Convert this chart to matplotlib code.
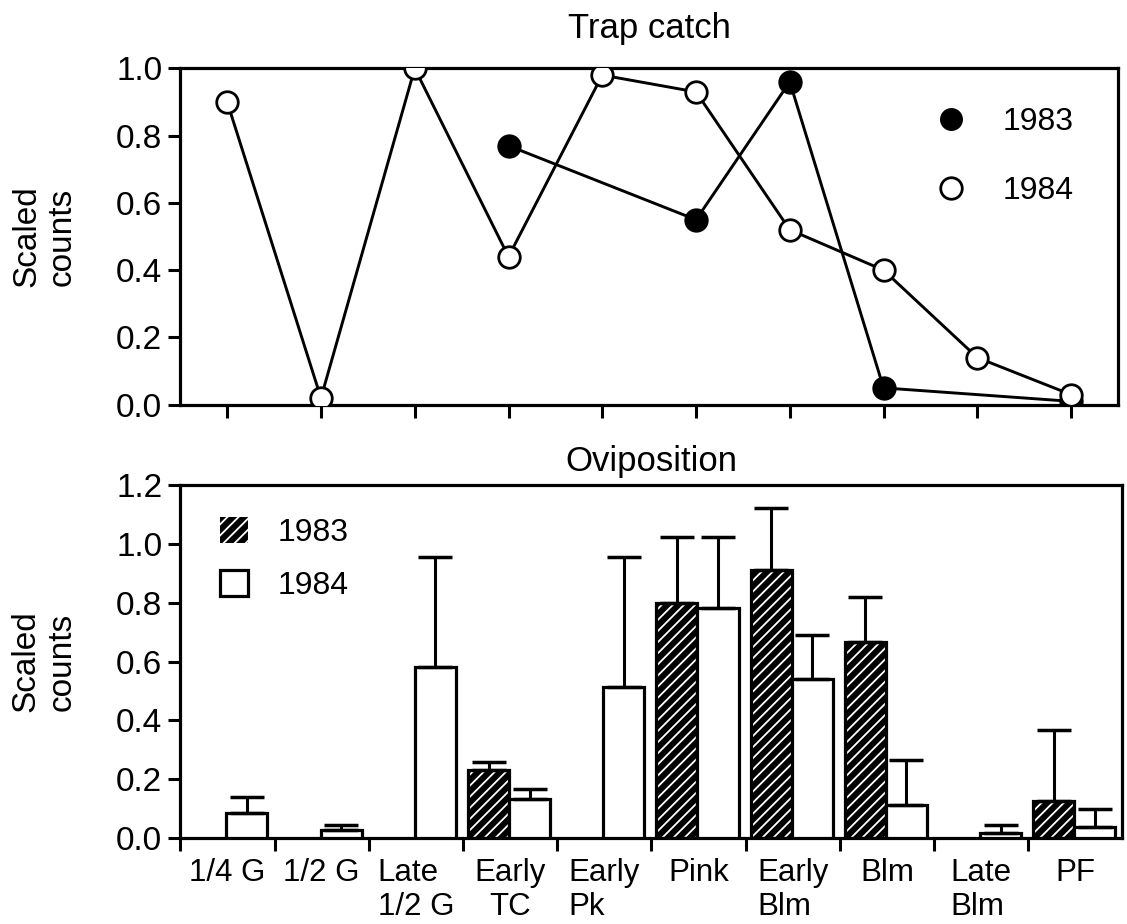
import numpy as np
import matplotlib
matplotlib.use("Agg")
import matplotlib.pyplot as plt
from matplotlib.lines import Line2D
from matplotlib.patches import Patch

plt.rcParams['font.family'] = ['Liberation Sans', 'DejaVu Sans']
plt.rcParams['hatch.linewidth'] = 1.3

# growth stages (x categories)
stages = ['1/4 G', '1/2 G', 'Late\n1/2 G', 'Early\nTC', 'Early\nPk',
          'Pink', 'Early\nBlm', 'Blm', 'Late\nBlm', 'PF']
stage_align = ['center', 'center', 'left', 'center', 'left',
               'center', 'left', 'center', 'left', 'center']

# trap catch, scaled counts (nan = not sampled)
trap_1983 = [np.nan, np.nan, np.nan, 0.77, np.nan, 0.55, 0.96, 0.05, np.nan, 0.01]
trap_1984 = [0.90, 0.02, 1.00, 0.44, 0.98, 0.93, 0.52, 0.40, 0.14, 0.03]

# oviposition, scaled counts with upper error
ovi_1983 = [np.nan, np.nan, np.nan, 0.23, np.nan, 0.80, 0.91, 0.665, np.nan, 0.127]
ovi_1983_err = [np.nan, np.nan, np.nan, 0.03, np.nan, 0.225, 0.212, 0.155, np.nan, 0.24]
ovi_1984 = [0.085, 0.028, 0.58, 0.133, 0.513, 0.782, 0.542, 0.112, 0.018, 0.036]
ovi_1984_err = [0.055, 0.017, 0.377, 0.034, 0.441, 0.243, 0.148, 0.153, 0.027, 0.064]

x = np.arange(len(stages))
fig = plt.figure(figsize=(11.27, 9.24), dpi=100)
ax1 = fig.add_axes([0.160, 0.562, 0.832, 0.364])
ax2 = fig.add_axes([0.160, 0.093, 0.836, 0.382])

# ---- top panel: trap catch
t83 = np.array(trap_1983)
m = ~np.isnan(t83)
ax1.plot(x[m], t83[m], '-', color='black', lw=2.1, marker='o', ms=15.5,
         mfc='black', mec='black', mew=2, zorder=3)
ax1.plot(x, trap_1984, '-', color='black', lw=2.1, marker='o', ms=15.5,
         mfc='white', mec='black', mew=2, zorder=4)
ax1.set_xlim(-0.5, 9.5)
ax1.set_ylim(0, 1.0)
ax1.set_yticks(np.arange(0, 1.01, 0.2))
ax1.set_yticklabels([f"{v:.1f}" for v in np.arange(0, 1.01, 0.2)])
ax1.set_xticks(x)
ax1.set_xticklabels([])
ax1.set_title("Trap catch", fontsize=25, pad=22)
ax1.set_ylabel("Scaled\ncounts", fontsize=24)
ax1.yaxis.set_label_coords(-0.109, 0.5)

h83 = Line2D([], [], ls='none', marker='o', ms=15.5, mfc='black', mec='black')
h84 = Line2D([], [], ls='none', marker='o', ms=15.5, mfc='white', mec='black', mew=2)
ax1.legend([h83, h84], ['1983', '1984'], loc='upper left', bbox_to_anchor=(0.805, 0.884),
           frameon=False, fontsize=23, numpoints=1, handlelength=1.0,
           handletextpad=1.1, labelspacing=1.2, borderpad=0, borderaxespad=0)

# ---- bottom panel: oviposition
w = 0.436
ax2.bar(x - 0.447, ovi_1983, width=w, align='edge', color='black',
        edgecolor='white', hatch='///', lw=0, zorder=2)
ax2.bar(x - 0.447, ovi_1983, width=w, align='edge', fill=False,
        edgecolor='black', lw=2.3, zorder=3)
ax2.bar(x - 0.011, ovi_1984, width=w, align='edge', color='white',
        edgecolor='black', lw=2.3, zorder=3)
e83 = np.array(ovi_1983_err)
e84 = np.array(ovi_1984_err)
ax2.errorbar(x - 0.447 + w / 2, ovi_1983, yerr=[np.zeros_like(e83), e83], fmt='none',
             ecolor='black', elinewidth=2.2, capsize=12, capthick=2.5, zorder=4)
ax2.errorbar(x - 0.011 + w / 2, ovi_1984, yerr=[np.zeros_like(e84), e84], fmt='none',
             ecolor='black', elinewidth=2.2, capsize=12, capthick=2.5, zorder=4)
ax2.set_xlim(-0.5, 9.5)
ax2.set_ylim(0, 1.2)
ax2.set_yticks(np.arange(0, 1.21, 0.2))
ax2.set_yticklabels([f"{v:.1f}" for v in np.arange(0, 1.21, 0.2)])
ax2.set_xticks(x - 0.5)
ax2.set_xticklabels([])
ax2.set_xticks(x, minor=True)
ax2.set_xticklabels(stages, minor=True, fontsize=22.5)
for lab, al in zip(ax2.get_xticklabels(minor=True), stage_align):
    lab.set_multialignment(al)
ax2.tick_params(axis='x', which='minor', length=0, pad=14)
ax2.set_title("Oviposition", fontsize=25, pad=10)
ax2.set_ylabel("Scaled\ncounts", fontsize=24)
ax2.yaxis.set_label_coords(-0.109, 0.5)

p83 = Patch(facecolor='black', edgecolor='white', hatch='///', lw=0)
p84 = Patch(facecolor='white', edgecolor='black', lw=2.3)
ax2.legend([p83, p84], ['1983', '1984'], loc='upper left', bbox_to_anchor=(0.0426, 0.909),
           frameon=False, fontsize=23, handlelength=0.85, handleheight=0.85,
           handletextpad=0.95, labelspacing=0.7, borderpad=0, borderaxespad=0)

for ax in (ax1, ax2):
    for s in ax.spines.values():
        s.set_linewidth(2.3)
    ax.tick_params(axis='both', which='major', direction='out', width=2.2, length=9,
                   labelsize=24, pad=4)

fig.savefig("out.png", dpi=100)
